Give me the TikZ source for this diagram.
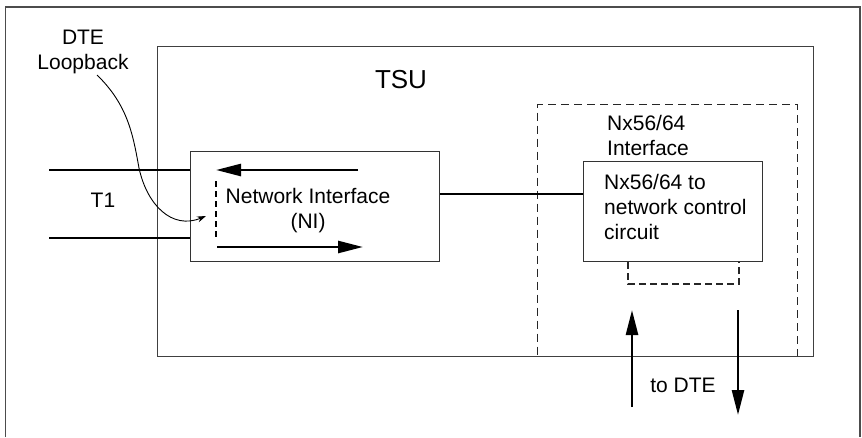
\documentclass[tikz,border=0pt]{standalone}
\usepackage{fontspec}
\setmainfont{Liberation Sans}
\usetikzlibrary{arrows.meta}
\begin{document}
\begin{tikzpicture}[x=1pt,y=-1pt,
  txt/.style={font=\fontsize{21}{25}\selectfont, inner sep=0pt, align=center},
  boxline/.style={draw=black!80, line width=1.4pt},
  framebox/.style={draw, rectangle, anchor=north west, inner sep=0pt},
  thickline/.style={line width=2.6pt},
  bigarrow/.style={thickline, -{Triangle[length=25pt,width=12pt]}},
  dashbox/.style={draw=black!85, line width=1.1pt, dash pattern=on 8pt off 5pt},
  loopline/.style={line width=0.9pt, -{Stealth[length=9pt,width=6pt]}},
]
\useasboundingbox (0,0) rectangle (862,437);
\fill[white] (0,0) rectangle (862,437);

% outer frame (open at the bottom edge)
\coordinate (fbl) at (5.5,437);
\coordinate (ftr) at (860,7);
\coordinate (fbr) at (860,437);
\draw[draw=black!70, line width=1.1pt] (fbl) |- (ftr) -- (fbr);

% Nx56/64 interface (dashed) box
\node[framebox, dashbox, minimum width=260pt, minimum height=252pt] (nxif) at (537,104) {};
% TSU box
\node[framebox, boxline, draw=black!75, line width=1.3pt, minimum width=656pt, minimum height=310pt] (tsu) at (157,46) {};
\node[txt, font=\fontsize{26}{30}\selectfont, anchor=base] (tsulabel) at (401,88) {TSU};

% Network interface box
\node[framebox, boxline, minimum width=249pt, minimum height=110pt] (ni) at (190,151) {};
\node[txt] (nilabel) at (308,211) {Network Interface\\(NI)};

% Nx56/64 to network control circuit box
\node[framebox, boxline, fill=white, minimum width=179pt, minimum height=100pt] (ncc) at (583,161) {};
\node[txt, align=left, anchor=north west] (ncclabel) at (604,174) {Nx56/64 to\\network control\\circuit};
\node[txt, align=left, anchor=north west] (nxiflabel) at (607,115) {Nx56/64\\Interface};

% small dashed box under control circuit
\coordinate (sd1) at (628,262);
\coordinate (sd2) at (739,284);
\coordinate (sd3) at (739,262);
\draw[dashbox, dash pattern=on 7pt off 4pt] (sd1) |- (sd2) -- (sd3);

% connection NI -> control circuit
\coordinate (lnk) at (500,194);
\draw[thickline] (ni.east |- lnk) -- (ncc.west |- lnk);

% T1 lines
\coordinate (t1a) at (49,170);
\coordinate (t1b) at (49,238);
\draw[thickline] (t1a) -- (ni.west |- t1a);
\draw[thickline] (t1b) -- (ni.west |- t1b);
\node[txt] (t1label) at (103,200) {T1};

% arrows inside NI
\coordinate (na1) at (358,170);
\coordinate (na2) at (216,170);
\coordinate (nb1) at (217,247);
\coordinate (nb2) at (363,247);
\draw[bigarrow] (na1) -- (na2);
\draw[bigarrow] (nb1) -- (nb2);
\coordinate (nd1) at (216,181);
\coordinate (nd2) at (216,237);
\draw[line width=2pt, dash pattern=on 6pt off 4pt] (nd1) -- (nd2);

% DTE loopback label and curved pointer
\node[txt] (dtelb) at (83,52) {DTE\\Loopback};
\coordinate (lbtip) at (206,216);
\draw[loopline] (97,75) .. controls (128,105) and (133,135) .. (139,168)
  .. controls (147,205) and (172,230) .. (lbtip);

% to DTE arrows
\coordinate (up1) at (632,407);
\coordinate (up2) at (632,310);
\coordinate (dn1) at (738,310);
\coordinate (dn2) at (738,415);
\draw[bigarrow] (up1) -- (up2);
\draw[bigarrow] (dn1) -- (dn2);
\node[txt, anchor=base] (todte) at (683,392) {to DTE};
\end{tikzpicture}
\end{document}
